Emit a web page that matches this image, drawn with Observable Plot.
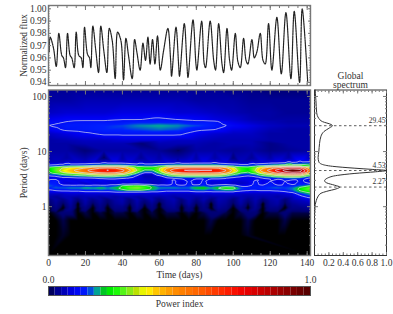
<!DOCTYPE html>
<html><head><meta charset="utf-8">
<script src="https://cdn.jsdelivr.net/npm/d3@7"></script>
<script src="https://cdn.jsdelivr.net/npm/@observablehq/plot@0.6"></script>
<style>
html,body{margin:0;padding:0;background:#fff}
#page{position:relative;width:393px;height:314px;overflow:hidden;background:#fff}
#page>svg,#page>div{position:absolute}
</style></head><body><div id="page"></div>
<script>
// Light curve
const fluxTime=[0.4,0.9,2.7,4.2,5.6,7.2,8.1,9.2,10.3,11.7,12.6,13.9,15,16.4,17.7,18.6,19.5,21.1,22.2,22.9,24,25.6,27.1,28.3,30,31.6,32.9,34.5,36.1,37.4,39.2,40.6,41.9,43.3,45.3,46.6,47.8,49.6,51.1,52.5,53.8,55,56.3,57.6,59,60.5,62.3,64.6,66.1,66.6,69,70.4,70.9,73.5,74.9,75.5,78.2,79.8,80.3,82.9,84.3,85,87.5,89.4,90.4,92.1,93.9,94.8,96.6,98,99.1,101.1,102.5,103.8,105.6,106.9,107.9,110.1,111.4,112.8,114.6,116.1,117.3,119.1,120.9,123.6,126,128.5,131.2,133,135.9,137.3,140.3];
const fluxValue=[.965,.977,.968,.953,.98,.962,.96,.952,.98,.962,.96,.952,.981,.962,.96,.952,.985,.963,.96,.952,.986,.966,.948,.986,.965,.948,.984,.974,.943,.981,.974,.942,.976,.962,.943,.975,.965,.95,.972,.958,.977,.955,.975,.955,.978,.95,.966,.984,.958,.945,.985,.955,.945,.988,.955,.944,.991,.955,.95,.99,.955,.952,.99,.958,.95,.988,.955,.948,.984,.958,.95,.98,.957,.952,.976,.958,.955,.975,.96,.965,.98,.958,.955,.988,.95,.993,.947,.997,.943,.998,.94,1,.94];
const fluxTicks=[.94,.95,.96,.97,.98,.99,1];
const fluxMinor=[.938,.94,.942,.944,.946,.948,.95,.952,.954,.956,.958,.96,.962,.964,.966,.968,.97,.972,.974,.976,.978,.98,.982,.984,.986,.988,.99,.992,.994,.996,.998,1,1.002];

// Wavelet power map (percent of maximum)
const timeCoarse=[0,10,20,30,40,50,60,70,80,90,100,110,120,130,141.8];
const periodsCoarse=[131,84.6,51,38,35,29.5,25,21,15.9,14,10.4,7.8,6.86];
const powerCoarse=[
[4,4,4,4,4,4,4,4,4,4,3,3,2,2,2],
[5,5,6,6,6,6,6,6,5,5,5,4,4,4,4],
[7,8,8,8,9,9,9,8,8,7,6,5,5,4,4],
[10,11,11,11,12,12,13,12,11,9,8,6,5,5,5],
[11,12,13,13,13,14,14,14,13,13,9,7,6,5,5],
[12,14,14,15,16,18,19,18,16,14,11,9,7,6,6],
[10,13,14,15,15,16,17,16,13,12,9,8,6,5,5],
[7,9,11,13,13,13,13,13,10,8,7,7,5,5,5],
[5,6,7,7,8,8,8,7,7,6,6,6,5,5,5],
[5,5,6,6,6,2,6,6,6,5,6,6,3,5,5],
[5,5,2,5,5,5,4,1,5,5,4,5,3,4,5],
[5,5,5,1,5,4,5,5,5,5,2,4,5,5,6],
[6,6,6,5,6,6,6,4,6,6,5,6,7,8,10]
];
const timeFine=[0,4,8,12,16,20,24,28,32,36,40,44,48,52,56,60,64,68,72,76,80,84,88,92,96,100,104,108,112,116,120,124,128,132,136,141.8];
const periodsFine=[6.3,5.57,5.12,4.7,4.53,4.15,3.82,3.51,3.23,2.91,2.62,2.41,2.21,2.04,1.87,1.72,1.52,1.34,1.13,.96,.78,.56,.3];
const powerFine=[
[7,7,7,8,8,8, 9,9,10,10,10,9, 8,8,8,9,9,9, 9,9,10,10,10,10, 9,8,7,7,8,9, 10,10,11,12,13,14],
[13,14,16,17,17,18, 20,21,22,22,21,19, 17,17,17,19,21,22, 22,22,22,22,22,21, 19,17,15,15,17,19, 21,23,26,28,27,23],
[24,29,34,37,40,44, 50,55,57,55,48,38, 28,25,25,32,44,52, 56,58,58,58,57,55, 47,36,27,25,31,42, 50,57,66,72,68,38],
[22,29,35,41,46,53, 60,66,68,66,58,44, 32,23,24,33,49,62, 67,69,69,68,68,66, 55,39,27,23,32,48, 59,72,85,93,88,46],
[22,30,37,43,49,57, 65,72,74,72,63,47, 33,20,20,33,52,68, 73,75,75,74,74,72, 60,42,28,24,34,52, 64,78,92,100,96,50],
[20,27,33,38,42,48, 54,60,62,60,53,38, 24,12,12,25,42,55, 61,63,63,62,62,60, 50,35,24,21,29,43, 53,65,77,83,80,42],
[14,17,22,24,27,30, 35,38,40,38,33,23, 14,7,7,15,26,35, 39,40,40,40,40,38, 32,22,15,14,18,27, 34,42,49,53,51,28],
[10,11,14,15,16,17, 19,21,22,21,19,15, 10,6,6,9,15,19, 21,22,22,22,22,21, 18,14,12,11,12,16, 19,23,27,28,27,16],
[11,11,10,9,10,10, 10,11,12,12,11,10, 8,7,7,8,10,11, 12,12,12,12,12,12, 11,10,10,10,10,11, 12,13,14,15,14,10],
[13,14,9,10,9,11, 9,10,9,10,9,10, 9,8,7,7,9,13, 9,13,9,13,9,9, 10,8,8,9,13,9, 12,9,12,9,13,10],
[15,14,9,8,9,7, 9,8,9,8,9,8, 9,7,6,7,9,13, 8,14,9,14,8,8, 9,7,7,8,14,9, 14,9,13,10,14,12],
[17,15,13,13,13,13, 13,13,13,15,23,25, 26,24,20,14,13,14, 13,14,14,15,13,15, 16,14,10,11,14,13, 14,13,13,14,16,22],
[15,17,17,18,18,20, 19,21,18,21,24,30, 32,28,22,18,18,18, 17,17,22,23,19,23, 27,26,17,14,14,15, 16,17,16,17,23,30],
[12,14,14,15,15,16, 16,17,16,18,22,26, 27,24,20,16,15,15, 15,15,18,19,16,19, 22,21,15,13,13,14, 14,14,15,17,24,30],
[10,10,11,11,11,12, 12,12,12,13,13,13, 13,13,12,12,11,11, 11,11,12,12,12,12, 12,12,11,11,10,10, 10,11,12,14,20,26],
[7,7,7,8,8,8, 8,8,8,8,9,9, 9,8,8,8,8,7, 7,7,8,8,8,8, 8,8,7,7,7,7, 7,7,8,9,14,20],
[5,4,6,6,5,6, 6,5,6,5,6,6, 5,6,6,5,6,5, 6,6,5,6,5,6, 6,5,6,5,6,5, 6,5,6,7,10,14],
[2,5,3,6,2,6, 3,5,2,5,6,2, 6,3,6,2,5,6, 2,6,3,6,2,6, 5,2,6,3,6,2, 5,6,2,6,7,9],
[1,4,1,5,0,5, 1,4,1,4,5,1, 5,1,4,0,4,5, 1,5,1,4,0,5, 4,1,5,1,5,0, 4,5,1,4,5,6],
[0,3,0,4,0,3, 0,3,0,3,3,0, 4,0,3,0,3,4, 0,3,0,3,0,4, 3,0,3,0,4,0, 3,3,0,3,3,4],
[0,1,2,2,0,1, 0,1,0,1,1,0, 1,0,1,0,1,1, 0,1,0,1,2,2, 1,0,1,2,2,0, 1,1,2,1,1,1],
[0,0,1,0,0,0, 0,0,0,0,0,0, 0,0,0,0,0,0, 0,0,0,0,1,0, 0,0,0,1,0,0, 0,0,1,0,0,0],
[0,0,.5,0,0,0, 0,0,0,0,0,0, 0,0,0,0,0,0, 0,0,0,0,0,0, 0,0,0,.5,0,0, 0,0,0,0,0,0]
];
const timeBottom=[0,70,141.8];
const periodBottom=.13;
const contourLevels=[.12,.22,.33,.45,.58,.72,.86];

// Global spectrum
const specPeriod=[131,100,84,51,40,35,31,29.45,27,23,19,14,10,7.8,6.5,5.9,5.4,5,4.75,4.53,4.3,4,3.7,3.3,2.95,2.7,2.45,2.27,2.1,1.9,1.75,1.5,1.3,1.1,.95,.7,.13];
const specPower=[.01,.015,.02,.03,.06,.11,.23,.25,.21,.13,.09,.07,.06,.05,.06,.1,.25,.55,.8,1,.85,.55,.32,.18,.14,.17,.28,.35,.3,.17,.09,.045,.025,.01,.005,0,0];
const specPeaks=[29.45,4.53,2.27];
const specLabels=["29.45","4.53","2.27"];

// Colour key
const keyStops=[0,.015,.1,.15,.185,.22,.25,.3,.34,.375,.41,.48,.58,.68,.745,.83,1];
const keyColors=["#000000","#000070","#0000f0","#0020ff","#00a0a0","#00d000","#00ff00","#70f020","#c0e000","#ffff00","#ffc800","#ff9000","#ff6000","#ff2000","#f00000","#c00000","#500000"];
const keyLevels=[0,.025,.05,.075,.1,.125,.15,.175,.2,.225,.25,.275,.3,.325,.35,.375,.4,.425,.45,.475,.5,.525,.55,.575,.6,.625,.65,.675,.7,.725,.75,.775,.8,.825,.85,.875,.9,.925,.95,.975];

const timeTicks=[0,20,40,60,80,100,120,140];
const timeMinor=[0,5,10,15,20,25,30,35,40,45,50,55,60,65,70,75,80,85,90,95,100,105,110,115,120,125,130,135,140];
const periodTicks=[1,10,100];
const periodMinor=[.2,.3,.4,.5,.6,.7,.8,.9,1,2,3,4,5,6,7,8,9,10,20,30,40,50,60,70,80,90,100];
const specTicks=[.2,.4,.6,.8,1];
const specMinor=[.05,.1,.15,.2,.25,.3,.35,.4,.45,.5,.55,.6,.65,.7,.75,.8,.85,.9,.95];

const font={fontFamily:"'Liberation Serif',serif",fontSize:"9.5px",color:"#333",background:"transparent"};
const grey="#777";
const colorScale={type:"linear",domain:keyStops,range:keyColors,interpolate:"rgb",clamp:true};
const xDom=[0,141.8], yDom=[.13,131];

const power=[];
periodsCoarse.forEach((p,r)=>timeCoarse.forEach((t,c)=>power.push({t,p,v:powerCoarse[r][c]/100})));
periodsFine.forEach((p,r)=>timeFine.forEach((t,c)=>power.push({t,p,v:powerFine[r][c]/100})));
timeBottom.forEach(t=>power.push({t,p:periodBottom,v:0}));

const noText=()=>"";
const add=(el,left,top)=>{el.style.left=left+"px";el.style.top=top+"px";document.getElementById("page").append(el);};
const tickOpts=(anchor,size)=>({anchor,tickSize:-size,tickFormat:noText,stroke:grey,tickPadding:0,label:null});
const xTicks=(minor,major,size=4,small=2)=>[
  Plot.axisX(minor,tickOpts("bottom",small)),
  Plot.axisX(minor,tickOpts("top",small)),
  Plot.axisX(major,tickOpts("bottom",size)),
  Plot.axisX(major,tickOpts("top",size))
];
const yTicks=(minor,major,size=4,small=2)=>[
  Plot.axisY(minor,tickOpts("left",small)),
  Plot.axisY(minor,tickOpts("right",small)),
  Plot.axisY(major,tickOpts("left",size)),
  Plot.axisY(major,tickOpts("right",size))
];

// flux panel
add(Plot.plot({width:320,height:88,marginLeft:48,marginRight:10,marginTop:5,marginBottom:3,style:font,
  x:{domain:xDom,axis:null},y:{domain:[.9375,1.0027],axis:null},
  marks:[
    Plot.line(fluxTime.map((t,i)=>({t,f:fluxValue[i]})),{x:"t",y:"f",stroke:"#222",strokeWidth:1.2,strokeDasharray:"2,0.7",curve:"catmull-rom"}),
    Plot.frame({stroke:grey,strokeWidth:1.4}),
    ...xTicks(timeMinor,timeTicks),...yTicks(fluxMinor,fluxTicks,3,1.5),
    Plot.axisY(fluxTicks,{anchor:"left",tickSize:0,tickPadding:2,tickFormat:d3.format(".2f"),label:null}),
    Plot.text(["Normalized flux"],{frameAnchor:"left",rotate:-90,dx:-25,textAnchor:"middle"})
  ]}),0,0);

// wavelet panel
add(Plot.plot({width:320,height:195,marginLeft:48,marginRight:10,marginTop:3.5,marginBottom:26,style:font,
  x:{domain:xDom,axis:null},y:{type:"log",domain:yDom,axis:null},color:colorScale,
  marks:[
    Plot.raster(power,{x:"t",y:"p",fill:"v",interpolate:"barycentric",pixelSize:1}),
    Plot.contour(power,{x:"t",y:"p",value:"v",thresholds:contourLevels,interpolate:"barycentric",pixelSize:1,stroke:"#d8d8ee",strokeWidth:.7,fill:"none"}),
    Plot.frame({stroke:grey,strokeWidth:1.4}),
    ...xTicks(timeMinor,timeTicks),...yTicks(periodMinor,periodTicks),
    Plot.axisX(timeTicks,{anchor:"bottom",tickSize:0,tickPadding:4,tickFormat:d3.format("d"),label:null}),
    Plot.axisY(periodTicks,{anchor:"left",tickSize:0,tickPadding:2,tickFormat:d3.format("d"),label:null}),
    Plot.text(["Period (days)"],{frameAnchor:"left",rotate:-90,dx:-25,textAnchor:"middle"}),
    Plot.text(["Time (days)"],{frameAnchor:"bottom",dy:19,lineAnchor:"middle"})
  ]}),0,86);

// global spectrum panel
add(Plot.plot({width:93,height:205,marginLeft:14,marginRight:7,marginTop:19.5,marginBottom:20,style:font,
  x:{domain:[0,1],axis:null},y:{type:"log",domain:yDom,axis:null},
  marks:[
    Plot.ruleY(specPeaks,{stroke:"#333",strokeWidth:.8,strokeDasharray:"2.5,2.5"}),
    Plot.line(specPeriod.map((p,i)=>({p,v:specPower[i]})),{x:"v",y:"p",stroke:"#333",strokeWidth:1,curve:"monotone-y"}),
    Plot.text(specPeaks.map((p,i)=>({p,s:specLabels[i]})),{x:()=>1,y:"p",text:"s",textAnchor:"end",dx:-1,dy:-5,fontSize:7.5}),
    Plot.frame({stroke:"#333",strokeWidth:1}),
    ...xTicks(specMinor,specTicks,3,1.5),...yTicks(periodMinor,periodTicks),
    Plot.axisX(specTicks,{anchor:"bottom",tickSize:0,tickPadding:4,tickFormat:d3.format(".1f"),label:null}),
    Plot.text(["Global"],{frameAnchor:"top",lineAnchor:"middle",dy:-14}),
    Plot.text(["spectrum"],{frameAnchor:"top",lineAnchor:"middle",dy:-5})
  ]}),300,70);

// colour key
add(Plot.plot({width:320,height:42,marginLeft:48,marginRight:10,marginTop:14,marginBottom:19,style:font,
  x:{domain:[0,1],axis:null},y:{domain:[0,1],axis:null},color:colorScale,
  marks:[
    Plot.rect(keyLevels,{x1:d=>d,x2:d=>d+.025,y1:()=>0,y2:()=>1,fill:d=>d+.0125,inset:0}),
    Plot.frame({stroke:"#555",strokeWidth:1}),
    Plot.text(["0.0"],{frameAnchor:"top-left",textAnchor:"middle",lineAnchor:"middle",dy:-7}),
    Plot.text(["1.0"],{frameAnchor:"top-right",textAnchor:"middle",lineAnchor:"middle",dy:-7}),
    Plot.text(["Power index"],{frameAnchor:"bottom",lineAnchor:"middle",dy:8})
  ]}),0,272);
</script></body></html>
